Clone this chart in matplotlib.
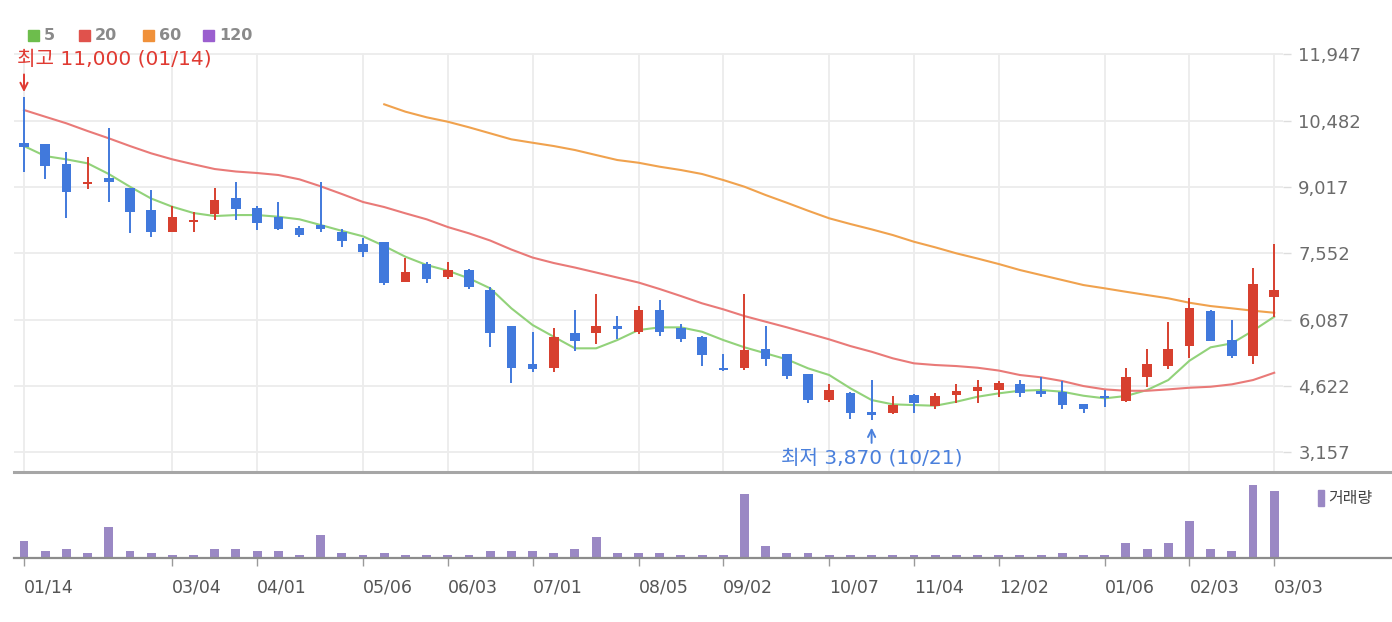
import matplotlib
matplotlib.use('Agg')
import matplotlib.pyplot as plt
from matplotlib.lines import Line2D
from matplotlib.patches import Rectangle
import numpy as np

# ---------------- data ----------------
x_label_idx = [0, 7, 11, 16, 20, 24, 29, 33, 38, 42, 46, 51, 55, 59]
x_labels = ['01/14', '03/04', '04/01', '05/06', '06/03', '07/01', '08/05',
            '09/02', '10/07', '11/04', '12/02', '01/06', '02/03', '03/03']
y_ticks = [3157, 4622, 6087, 7552, 9017, 10482, 11947]

opens = [10000, 9970, 9530, 9090, 9220, 9000, 8510, 8030, 8250, 8420,
         8770, 8550, 8360, 8110, 8180, 8020, 7760, 7800, 6930, 7320,
         7020, 7180, 6740, 5950, 5100, 5030, 5800, 5800, 5950, 5820,
         6300, 5900, 5700, 5030, 5030, 5450, 5320, 4880, 4310, 4470,
         4050, 4020, 4420, 4170, 4420, 4500, 4530, 4660, 4520, 4480,
         4220, 4400, 4280, 4810, 5070, 5500, 6280, 5640, 5290, 6580]
highs = [11000, 9970, 9800, 9680, 10330, 9000, 8950, 8600, 8460, 8990,
         9140, 8600, 8690, 8160, 9140, 8100, 7900, 7800, 7440, 7370,
         7370, 7200, 6800, 5950, 5810, 5910, 6300, 6650, 6170, 6390,
         6520, 5990, 5720, 5330, 6650, 5950, 5330, 4890, 4660, 4480,
         4750, 4400, 4450, 4470, 4660, 4750, 4740, 4750, 4810, 4740,
         4230, 4530, 5030, 5450, 6040, 6560, 6300, 6080, 7220, 7760]
lows = [9350, 9190, 8340, 8970, 8690, 8000, 7910, 8030, 8030, 8300,
        8300, 8070, 8060, 7910, 8030, 7690, 7470, 6850, 6920, 6890,
        6980, 6760, 5480, 4680, 4940, 4940, 5400, 5560, 5650, 5780,
        5730, 5600, 5060, 4960, 4970, 5060, 4770, 4240, 4270, 3900,
        3870, 4010, 4020, 4110, 4250, 4240, 4380, 4380, 4380, 4110,
        4020, 4150, 4270, 4590, 4990, 5230, 5610, 5250, 5110, 6150]
closes = [9900, 9490, 8910, 9140, 9140, 8470, 8030, 8360, 8300, 8730,
          8530, 8220, 8080, 7960, 8090, 7830, 7590, 6890, 7150, 6980,
          7180, 6800, 5790, 5030, 4990, 5710, 5610, 5950, 5870, 6300,
          5820, 5650, 5310, 4970, 5420, 5220, 4840, 4310, 4530, 4020,
          3990, 4200, 4240, 4400, 4500, 4600, 4680, 4460, 4450, 4200,
          4110, 4350, 4830, 5100, 5450, 6340, 5620, 5280, 6870, 6740]
volumes = [167, 67, 87, 47, 307, 67, 47, 27, 27, 87,
           87, 67, 67, 27, 227, 47, 27, 47, 27, 27,
           27, 27, 67, 67, 67, 47, 87, 207, 47, 47,
           47, 27, 27, 27, 643, 123, 47, 47, 27, 27,
           27, 27, 27, 27, 27, 27, 27, 27, 27, 47,
           27, 27, 147, 87, 147, 367, 87, 67, 727, 667]
ma5 = [9924, 9703, 9630, 9542, 9306, 9025, 8764, 8583, 8444, 8377,
       8399, 8399, 8362, 8305, 8179, 8050, 7929, 7714, 7478, 7295,
       7169, 7000, 6780, 6338, 5969, 5710, 5454, 5454, 5637, 5858,
       5917, 5917, 5820, 5637, 5476, 5343, 5210, 5012, 4864, 4570,
       4311, 4216, 4200, 4185, 4274, 4384, 4459, 4517, 4532, 4495,
       4406, 4349, 4400, 4532, 4753, 5180, 5476, 5564, 5843, 6152]
ma20 = [10720, 10572, 10426, 10256, 10095, 9924, 9763, 9630, 9520, 9416,
        9361, 9328, 9284, 9188, 9034, 8864, 8687, 8576, 8437, 8305,
        8134, 7995, 7836, 7637, 7460, 7339, 7239, 7129, 7018, 6908,
        6764, 6609, 6448, 6316, 6167, 6042, 5918, 5785, 5652, 5504,
        5378, 5233, 5122, 5085, 5062, 5025, 4963, 4864, 4813, 4731,
        4620, 4547, 4516, 4516, 4547, 4583, 4605, 4658, 4753, 4914]
ma60 = [np.nan] * 17 + [
        10846, 10683, 10559, 10461, 10338, 10205, 10072, 9997, 9924, 9836,
        9725, 9615, 9555, 9467, 9394, 9306, 9173, 9025, 8841, 8671,
        8495, 8327, 8201, 8083, 7957, 7809, 7686, 7553, 7438, 7317,
        7184, 7073, 6963, 6852, 6780, 6704, 6631, 6559, 6461, 6388,
        6338, 6285, 6240]
ma_labels = ['5', '20', '60', '120']

# ---------------- style ----------------
W, H = 1392, 622
UP, DOWN = '#d7402f', '#4179dc'
MA_COLORS = ['#92d27a', '#e97a78', '#f0a24e']
LEG_COLORS = ['#6dbd4c', '#e0524c', '#f0913a', '#9b5fcf']
GRID = '#ececec'
CJK = ['DejaVu Sans', 'Noto Sans CJK KR']

fig = plt.figure(figsize=(W / 100, H / 100), dpi=100)


def px_box(l, t, r, b):
    return [l / W, 1 - b / H, (r - l) / W, (b - t) / H]


step = 21.19  # pixels per week
x0 = 24
ax = fig.add_axes(px_box(14, 52.5, 1283, 472))
axv = fig.add_axes(px_box(14, 474, 1392, 558))
ax.set_xlim((14 - x0) / step, (1283 - x0) / step)
axv.set_xlim((14 - x0) / step, (1392 - x0) / step)
ax.set_ylim(2721, 11991)

x = np.arange(len(opens))
o = np.array(opens); c = np.array(closes)
hi = np.array(highs); lo = np.array(lows)
cols = [UP if cc >= oo else DOWN for oo, cc in zip(o, c)]

# MA lines
ax.plot(x, ma5, color=MA_COLORS[0], lw=1.5, zorder=2)
ax.plot(x, ma20, color=MA_COLORS[1], lw=1.5, zorder=2)
ax.plot(x, ma60, color=MA_COLORS[2], lw=1.5, zorder=2)

# candles
ax.vlines(x, lo, hi, colors=cols, lw=1.4, zorder=3)
body_h = np.maximum(np.abs(c - o), 45)
ax.bar(x, body_h, bottom=np.minimum(o, c), width=0.45, color=cols,
       linewidth=0, zorder=4)

# grid and ticks
ax.set_xticks(x_label_idx)
ax.set_xticklabels([])
ax.tick_params(axis='x', length=0)
ax.set_yticks(y_ticks)
ax.set_yticklabels([f'{v:,}' for v in y_ticks])
ax.yaxis.tick_right()
ax.tick_params(axis='y', length=6, width=1, color='#dddddd', pad=5,
               labelsize=13, labelcolor='#6b6b6b')
ax.grid(True, color=GRID, lw=1.3, zorder=0)
ax.set_axisbelow(True)
for s in ax.spines.values():
    s.set_visible(False)

# bottom separator line of price pane (to the right edge)
fig.add_artist(Line2D([14 / W, 1.0], [1 - 472 / H] * 2, color='#a6a6a6',
                      lw=2.2, transform=fig.transFigure))

# annotations: max / min
imax = int(np.argmax(hi)); imin = int(np.argmin(lo))
ax.annotate('', xy=(imax, hi[imax]), xytext=(0, 16.5),
            textcoords='offset points',
            arrowprops=dict(arrowstyle='->', color='#e03a32', lw=1.4,
                            shrinkA=0, shrinkB=3.8, mutation_scale=13))
ax.annotate(f'최고 {hi[imax]:,} ({x_labels[0]})', xy=(imax, hi[imax]),
            xytext=(-5, 27.5), textcoords='offset points', ha='left',
            va='center', color='#e03a32', fontsize=14.5, family=CJK)
ax.annotate('', xy=(imin, lo[imin]), xytext=(0, -16.5),
            textcoords='offset points',
            arrowprops=dict(arrowstyle='->', color='#4a80dc', lw=1.4,
                            shrinkA=0, shrinkB=5.5, mutation_scale=13))
ax.annotate(f'최저 {lo[imin]:,} (10/21)', xy=(imin, lo[imin]),
            xytext=(0, -27.5), textcoords='offset points', ha='center',
            va='center', color='#4a80dc', fontsize=14.5, family=CJK)

# volume pane
axv.bar(x, volumes, width=0.42, color='#9a88c4', linewidth=0)
axv.set_ylim(0, 840)
axv.set_yticks([])
for k, s in axv.spines.items():
    s.set_visible(k == 'bottom')
axv.spines['bottom'].set_color('#8c8c8c')
axv.spines['bottom'].set_linewidth(1.6)
axv.set_xticks(x_label_idx)
axv.set_xticklabels(x_labels)
axv.tick_params(axis='x', length=6, width=1, color='#9a9a9a', pad=9,
                labelsize=12.5, labelcolor='#555555')
for lab in axv.get_xticklabels():
    lab.set_ha('left')

fig.add_artist(Rectangle((1318 / W, 1 - 506 / H), 6 / W, 16 / H,
                         color='#9a88c4', transform=fig.transFigure))
fig.text(1328 / W, 1 - 498 / H, '거래량', fontsize=11.5, color='#444444',
         va='center', ha='left', family=['Noto Sans CJK KR', 'DejaVu Sans'])

# top legend
sq_x = [28, 79, 143, 203]
for lbl, col, sx in zip(ma_labels, LEG_COLORS, sq_x):
    fig.add_artist(Rectangle((sx / W, 1 - 41 / H), 11 / W, 11 / H,
                             color=col, transform=fig.transFigure))
    fig.text((sx + 16) / W, 1 - 36 / H, lbl, fontsize=11.5,
             fontweight='bold', color='#8a8a8a', va='center', ha='left')

fig.savefig('out.png', dpi=100, facecolor='white')
